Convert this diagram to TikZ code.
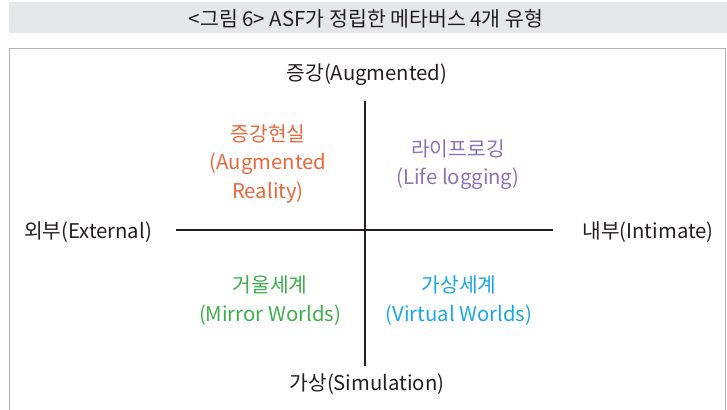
\documentclass[tikz,border=0pt]{standalone}
\usepackage{fontspec}
\setmainfont{Noto Sans CJK KR}
\definecolor{orng}{HTML}{E8683A}
\definecolor{purp}{HTML}{8C73B9}
\definecolor{grn}{HTML}{3DAE4A}
\definecolor{blu}{HTML}{1AA8E4}
\definecolor{ink}{HTML}{231F20}
\definecolor{titlebg}{HTML}{E6E7E8}
\definecolor{framec}{HTML}{B3B3B3}
\begin{document}
\begin{tikzpicture}[x=1pt,y=-1pt,
  lbl/.style={font=\fontsize{20.3}{26}\selectfont, text=ink, inner sep=0pt, align=center},
  quad/.style={font=\fontsize{20.3}{28.5}\selectfont, inner sep=0pt, align=center},
  axis/.style={draw=ink, line width=2pt}]
\useasboundingbox (0,0) rectangle (727,409);
\fill[white] (0,0) rectangle (727,409);
\fill[titlebg] (9,2) rectangle (727,33);
\node[inner sep=0pt, text=ink, font=\fontsize{20.5}{22}\selectfont] (title) at (366,18.5) {<그림 6> ASF가 정립한 메타버스 4개 유형};
\draw[framec, line width=1.2pt] (9.5,410) -- (9.5,48.5) -- (725.5,48.5) -- (725.5,410);
\coordinate (L) at (176,230);
\coordinate (R) at (553,230);
\coordinate (T) at (365,101);
\coordinate (B) at (365,366);
\draw[axis] (L) -- (R);
\draw[axis] (T) -- (B);
\node[lbl] (top) at (367,74.5) {증강(Augmented)};
\node[lbl] (bot) at (367,384.5) {가상(Simulation)};
\node[lbl] (lft) at (88,232) {외부(External)};
\node[lbl] (rgt) at (648,232) {내부(Intimate)};
\node[quad, text=orng] (ar) at (268,163.5) {증강현실\\(Augmented\\Reality)};
\node[quad, text=purp] (ll) at (458,164.5) {라이프로깅\\(Life logging)};
\node[quad, text=grn] (mw) at (270,300.5) {거울세계\\(Mirror Worlds)};
\node[quad, text=blu] (vw) at (459,300.5) {가상세계\\(Virtual Worlds)};
\end{tikzpicture}
\end{document}
